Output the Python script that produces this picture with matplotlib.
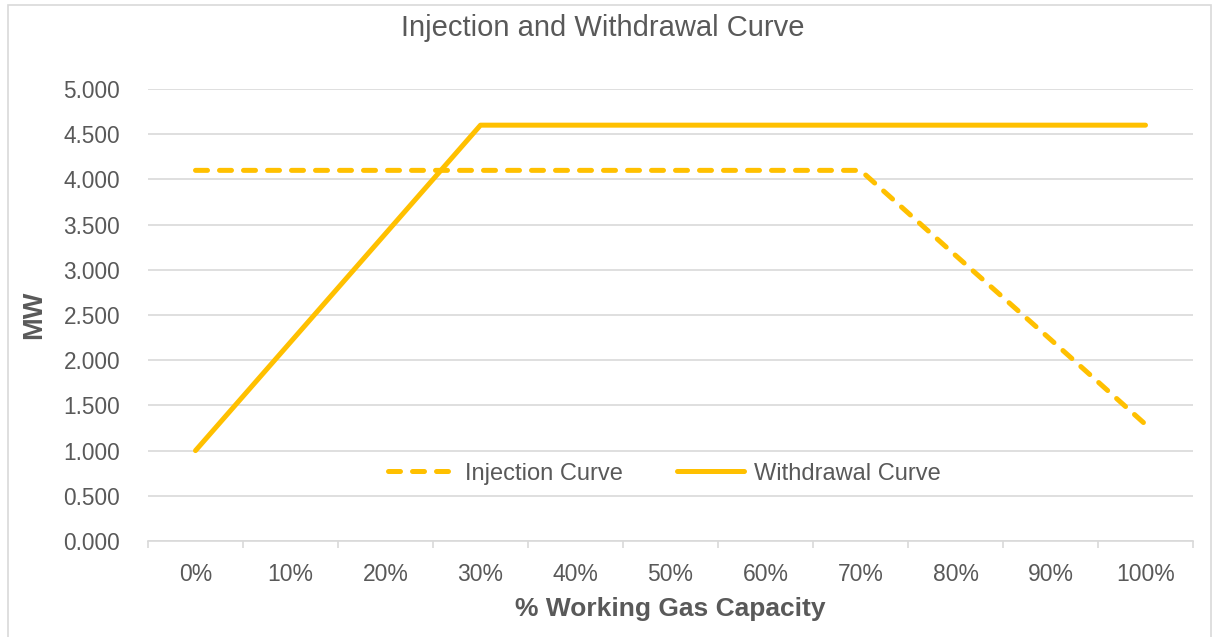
import matplotlib.pyplot as plt
from matplotlib.patches import Rectangle
from matplotlib.ticker import FixedLocator, FormatStrFormatter

# Data (MW)
categories = ['0%', '10%', '20%', '30%', '40%', '50%', '60%', '70%', '80%', '90%', '100%']
injection = [4.1, 4.1, 4.1, 4.1, 4.1, 4.1, 4.1, 4.1, 3.16, 2.23, 1.29]
withdrawal = [1.0, 2.2, 3.4, 4.6, 4.6, 4.6, 4.6, 4.6, 4.6, 4.6, 4.6]

line_color = '#FFC000'
text_color = '#595959'
grid_color = '#D9D9D9'

plt.rcParams['font.family'] = ['Liberation Sans', 'DejaVu Sans']

fig = plt.figure(figsize=(12.15, 6.37), dpi=100)
ax = fig.add_axes([148 / 1215, 1 - 541 / 637, (1193 - 148) / 1215, (541 - 89) / 637])

x = range(len(categories))
ax.plot(x, injection, color=line_color, lw=3.6, ls=(0, (2.4, 2.4)),
        dash_capstyle='round', solid_capstyle='round', label='Injection Curve')
ax.plot(x, withdrawal, color=line_color, lw=3.6, solid_capstyle='round',
        label='Withdrawal Curve')

ax.set_xlim(-0.5, len(categories) - 0.5)
ax.set_ylim(0, 5)
ax.set_yticks([i * 0.5 for i in range(11)])
ax.yaxis.set_major_formatter(FormatStrFormatter('%.3f'))
ax.set_xticks(list(x))
ax.set_xticklabels(categories)
ax.xaxis.set_minor_locator(FixedLocator([i - 0.5 for i in range(len(categories) + 1)]))

ax.grid(axis='y', color=grid_color, lw=1.2)
ax.set_axisbelow(True)
for side in ['top', 'right', 'left']:
    ax.spines[side].set_visible(False)
ax.spines['bottom'].set_color(grid_color)
ax.spines['bottom'].set_linewidth(1.2)

ax.tick_params(axis='y', length=0, pad=20, labelsize=16.3, labelcolor=text_color)
ax.tick_params(axis='x', which='major', length=0, pad=15.5, labelsize=16.5, labelcolor=text_color)
ax.tick_params(axis='x', which='minor', length=5, color=grid_color, width=1.2)

ax.set_xlabel('% Working Gas Capacity', fontsize=19, fontweight='bold',
              color=text_color, labelpad=8)
ax.set_ylabel('MW', fontsize=19.5, fontweight='bold', color=text_color, labelpad=12)
fig.text(603 / 1215, 1 - 28 / 637, 'Injection and Withdrawal Curve', ha='center',
         va='center', fontsize=21, color=text_color)

ax.legend(loc='center', bbox_to_anchor=(0.494, 0.149), ncol=2, frameon=False,
          fontsize=17, labelcolor=text_color, handlelength=2.85, columnspacing=2.3,
          handletextpad=0.4)

fig.patches.append(Rectangle((8 / 1215, -0.01), 1203 / 1215, 1 - 5 / 637 + 0.01,
                             transform=fig.transFigure, fill=False,
                             edgecolor=grid_color, lw=1.2))

fig.savefig('out.png', dpi=100)
